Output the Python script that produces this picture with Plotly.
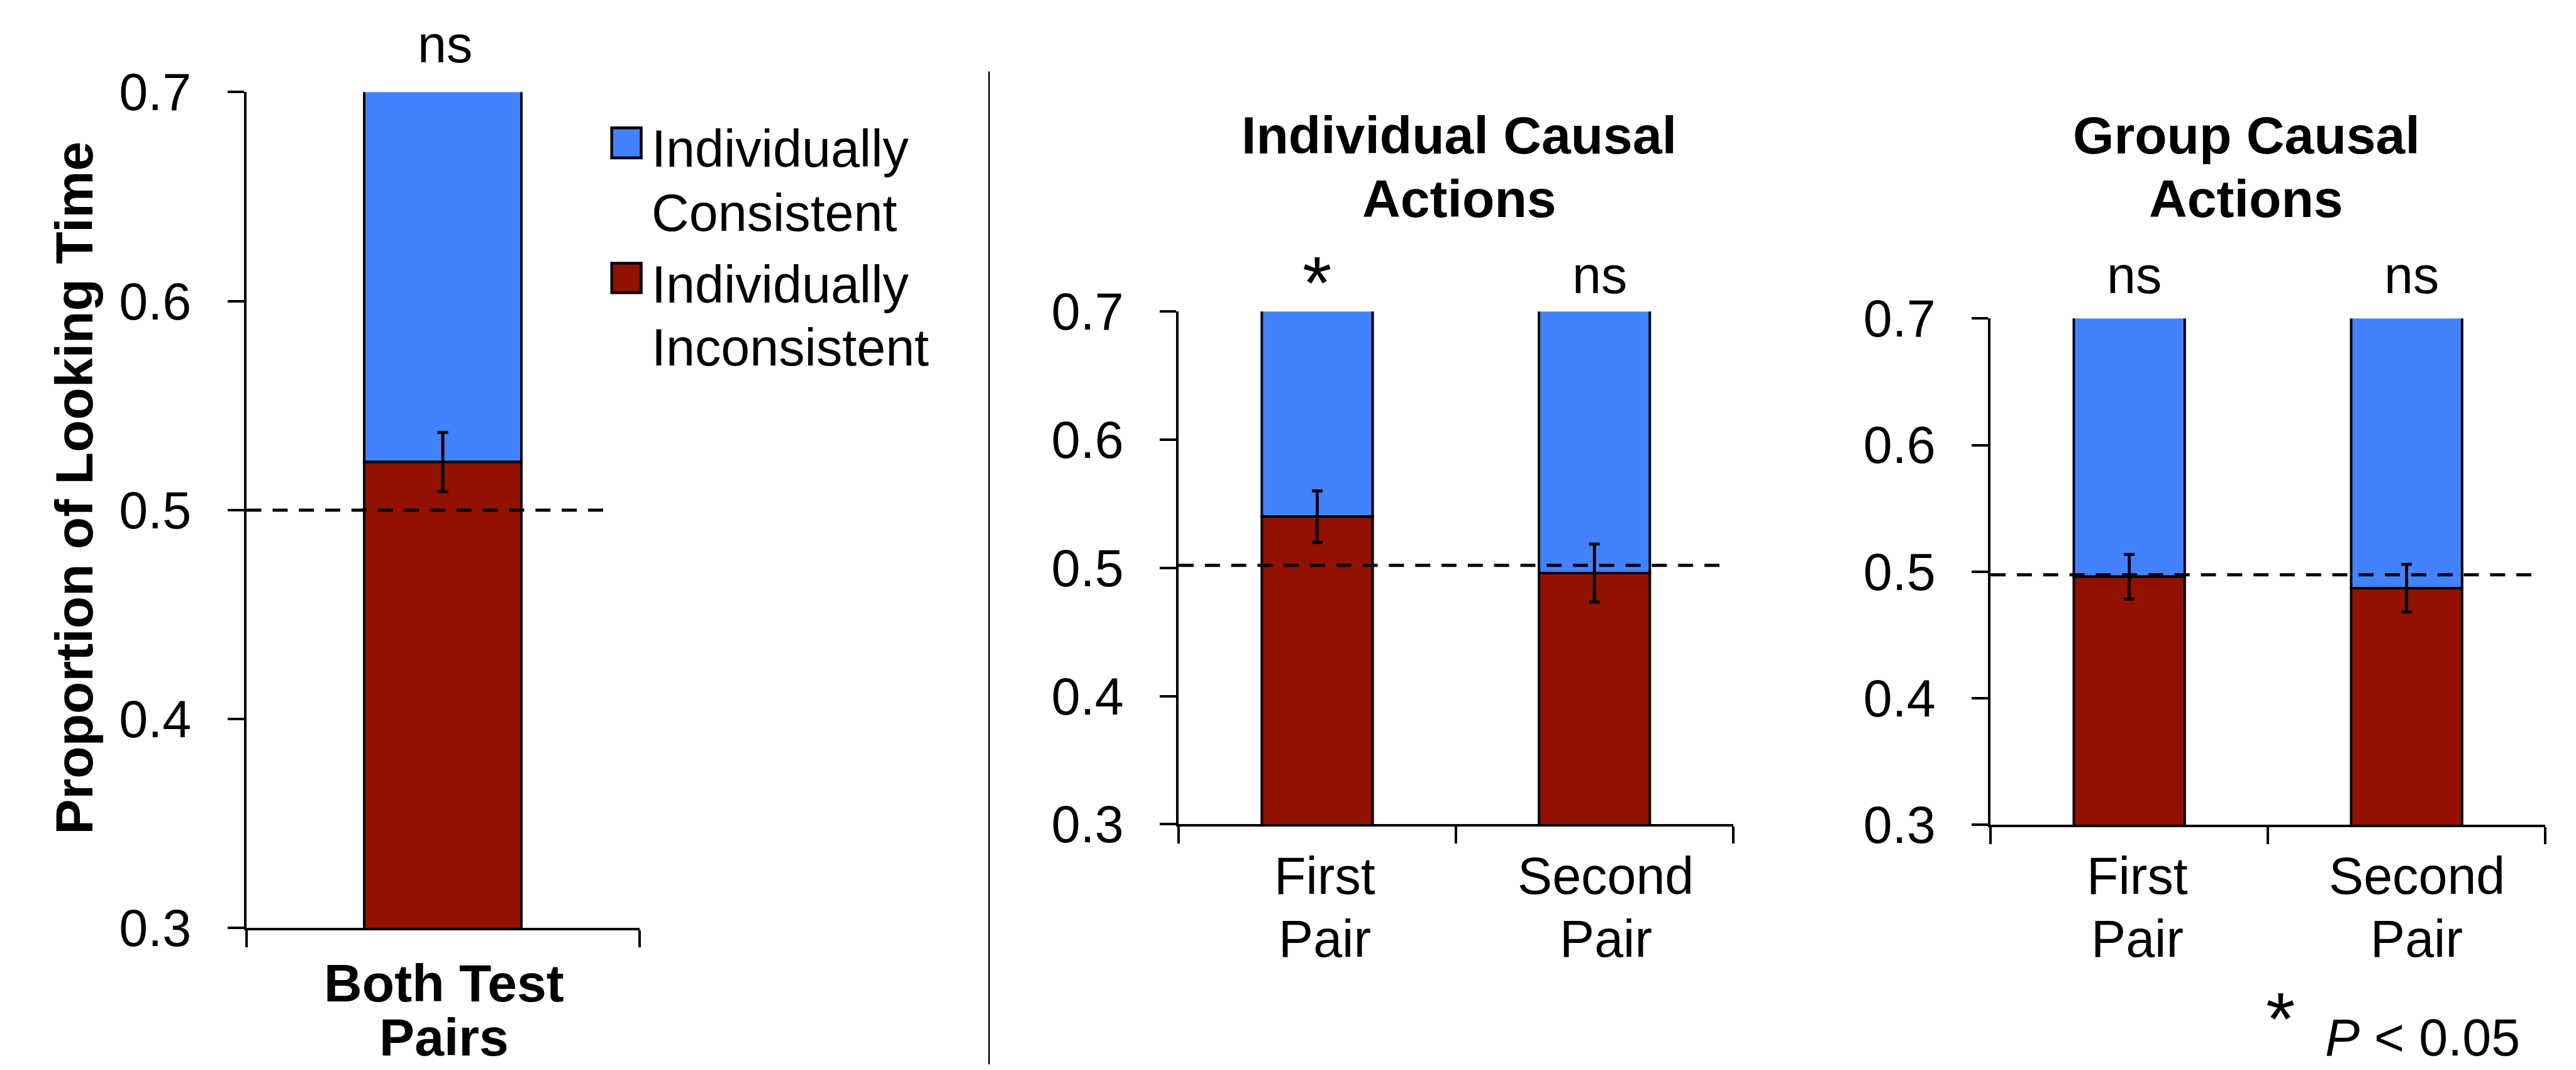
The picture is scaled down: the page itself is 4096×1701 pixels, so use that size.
import plotly.graph_objects as go

# ---------------- data ----------------
series_names = ["Individually Consistent", "Individually Inconsistent"]
panel_titles = [None, ["Individual Causal", "Actions"], ["Group Causal", "Actions"]]
category_lines = [
    [["Both Test", "Pairs"]],
    [["First", "Pair"], ["Second", "Pair"]],
    [["First", "Pair"], ["Second", "Pair"]],
]
inconsistent = [[0.523], [0.540, 0.496], [0.496, 0.487]]      # red share
sem = [[0.0142], [0.0201, 0.0226], [0.0176, 0.0188]]           # error bars
significance = [["ns"], ["*", "ns"], ["ns", "ns"]]
chance_level = [0.500, 0.502, 0.4975]
y_ticks = [0.3, 0.4, 0.5, 0.6, 0.7]
y_tick_labels = ["0.3", "0.4", "0.5", "0.6", "0.7"]
y_title = "Proportion of Looking Time"
footnote_star = "*"
footnote_text = "<i>P</i> &lt; 0.05"

# ---------------- geometry (reference pixels) ----------------
W_REF, H_REF = 4110, 1707
S = 0.996
W, H = 4096, 1701
BLUE = "#4382FF"
RED = "#921100"
FONT = "Liberation Sans, Arial, Helvetica, sans-serif"
F_REG = 83
F_BOLD = 84.5
F_STAR = 120
STAR_DY = 13   # box centre below the visual centre of the asterisk glyph


def fx(x):
    return x / W_REF


def fy(y):
    return 1 - y / H_REF


def mid_from_baseline(b, size):
    return b - 0.3465 * size


panels = [
    dict(x0=393, x1=1020, y07=147, y03=1480.5, dash_frac=0.911, sig_base=100,
         lab_shift=[2], lab_base=[1598, 1684], lab_bold=True),
    dict(x0=1880.5, x1=2765, y07=497, y03=1315, dash_frac=0.980, sig_base=468,
         lab_shift=[12, 18], lab_base=[1426, 1527], lab_bold=False,
         title_x=2328, title_base=[245, 346]),
    dict(x0=3176, x1=4061, y07=508, y03=1316, dash_frac=0.978, sig_base=468,
         lab_shift=[13, 16], lab_base=[1426, 1527], lab_bold=False,
         title_x=3584, title_base=[245, 346]),
]

fig = go.Figure()
annotations = []
shapes = []

for i, p in enumerate(panels):
    n = "" if i == 0 else str(i + 1)
    xa, ya = "x" + n, "y" + n
    idx = list(range(len(inconsistent[i])))
    vals = inconsistent[i]
    fig.add_trace(go.Bar(
        x=idx, y=[1 - v for v in vals], base=vals, width=0.4,
        name=series_names[0], showlegend=False,
        marker=dict(color=BLUE, line=dict(color="black", width=4 * S)),
        xaxis=xa, yaxis=ya, hoverinfo="skip"))
    fig.add_trace(go.Bar(
        x=idx, y=vals, width=0.4, name=series_names[1], showlegend=False,
        marker=dict(color=RED, line=dict(color="black", width=4 * S)),
        error_y=dict(type="data", array=sem[i], color="black",
                     thickness=4.8 * S, width=8.5 * S),
        xaxis=xa, yaxis=ya, hoverinfo="skip"))

    ncat = len(idx)
    fig.update_layout(**{
        ("xaxis" + n): dict(
            domain=[fx(p["x0"]), fx(p["x1"])], range=[-0.5, ncat - 0.5],
            anchor=ya, showline=True, linecolor="black", linewidth=4 * S,
            ticks="outside", ticklen=27 * S, tickwidth=4 * S, tickcolor="black",
            tickvals=[k - 0.5 for k in range(ncat + 1)], showticklabels=False,
            showgrid=False, zeroline=False, fixedrange=True, automargin=False),
        ("yaxis" + n): dict(
            domain=[fy(p["y03"]), fy(p["y07"])], range=[0.3, 0.7],
            anchor=xa, showline=True, linecolor="black", linewidth=4 * S,
            ticks="outside", ticklen=26 * S, tickwidth=4 * S, tickcolor="black",
            tickvals=y_ticks, ticktext=y_tick_labels,
            tickfont=dict(family=FONT, size=F_REG * S, color="black"),
            ticklabelstandoff=int(42 * S),
            showgrid=False, zeroline=False, fixedrange=True, automargin=False),
    })

    # chance line
    shapes.append(dict(type="line", xref=xa + " domain", x0=0, x1=p["dash_frac"],
                       yref=ya, y0=chance_level[i], y1=chance_level[i],
                       line=dict(color="black", width=5 * S,
                                 dash=f"{24 * S:.1f}px,{18 * S:.1f}px")))

    # significance marks
    for k, s in enumerate(significance[i]):
        if s == "*":
            annotations.append(dict(text=s, x=k, xref=xa, y=fy(438.5 + STAR_DY), yref="paper",
                                    showarrow=False, xanchor="center", yanchor="middle",
                                    font=dict(family=FONT, size=F_STAR * S, color="black")))
        else:
            annotations.append(dict(text=s, x=k, xref=xa, xshift=(3 if i == 0 else 8) * S,
                                    y=fy(mid_from_baseline(p["sig_base"], F_REG)), yref="paper",
                                    showarrow=False, xanchor="center", yanchor="middle",
                                    font=dict(family=FONT, size=F_REG * S, color="black")))

    # category labels
    for k, lines in enumerate(category_lines[i]):
        for j, line in enumerate(lines):
            size = F_BOLD if p["lab_bold"] else F_REG
            txt = f"<b>{line}</b>" if p["lab_bold"] else line
            annotations.append(dict(text=txt, x=k, xref=xa, xshift=p["lab_shift"][k] * S,
                                    y=fy(mid_from_baseline(p["lab_base"][j], size)), yref="paper",
                                    showarrow=False, xanchor="center", yanchor="middle",
                                    font=dict(family=FONT, size=size * S, color="black")))

    # panel titles
    if panel_titles[i]:
        for j, line in enumerate(panel_titles[i]):
            annotations.append(dict(text=f"<b>{line}</b>", x=fx(p["title_x"]), xref="paper",
                                    y=fy(mid_from_baseline(p["title_base"][j], F_BOLD)), yref="paper",
                                    showarrow=False, xanchor="center", yanchor="middle",
                                    font=dict(family=FONT, size=F_BOLD * S, color="black")))

# y-axis title (panel 1)
annotations.append(dict(text=f"<b>{y_title}</b>", textangle=-90,
                        x=fx(148 - 0.3465 * F_BOLD), xref="paper", y=fy(778), yref="paper",
                        showarrow=False, xanchor="center", yanchor="middle",
                        font=dict(family=FONT, size=F_BOLD * S, color="black")))

# legend (drawn manually)
legend_rows = [(BLUE, 204, 252, ["Individually", "Consistent"], [266, 368]),
               (RED, 420, 467, ["Individually", "Inconsistent"], [483, 583])]
for (col, t, b, lines, bases), name in zip(legend_rows, series_names):
    shapes.append(dict(type="rect", xref="paper", yref="paper",
                       x0=fx(976), x1=fx(1023), y0=fy(b), y1=fy(t),
                       fillcolor=col, line=dict(color="black", width=4.5 * S)))
    for line, base in zip(lines, bases):
        annotations.append(dict(text=line, x=fx(1038), xref="paper",
                                y=fy(mid_from_baseline(base, F_REG)), yref="paper",
                                showarrow=False, xanchor="left", yanchor="middle",
                                font=dict(family=FONT, size=F_REG * S, color="black")))

# divider
shapes.append(dict(type="line", xref="paper", yref="paper", x0=fx(1578), x1=fx(1578),
                   y0=fy(1698), y1=fy(114), line=dict(color="black", width=2.5 * S)))

# footnote
annotations.append(dict(text=footnote_star, x=fx(3639), xref="paper", y=fy(1612 + STAR_DY), yref="paper",
                        showarrow=False, xanchor="center", yanchor="middle",
                        font=dict(family=FONT, size=F_STAR * S, color="black")))
annotations.append(dict(text=footnote_text, x=fx(3708), xref="paper",
                        y=fy(mid_from_baseline(1684, F_REG)), yref="paper",
                        showarrow=False, xanchor="left", yanchor="middle",
                        font=dict(family=FONT, size=F_REG * S, color="black")))

fig.update_layout(
    template="none",
    width=W, height=H, margin=dict(l=0, r=0, t=0, b=0, pad=0, autoexpand=False),
    paper_bgcolor="white", plot_bgcolor="white",
    barmode="overlay", showlegend=False,
    annotations=annotations, shapes=shapes,
    font=dict(family=FONT, color="black"),
)

fig.write_html(
    "out.html",
    config={"displayModeBar": False},
    post_script="document.body.style.margin='0px';document.body.style.overflow='hidden';",
)
